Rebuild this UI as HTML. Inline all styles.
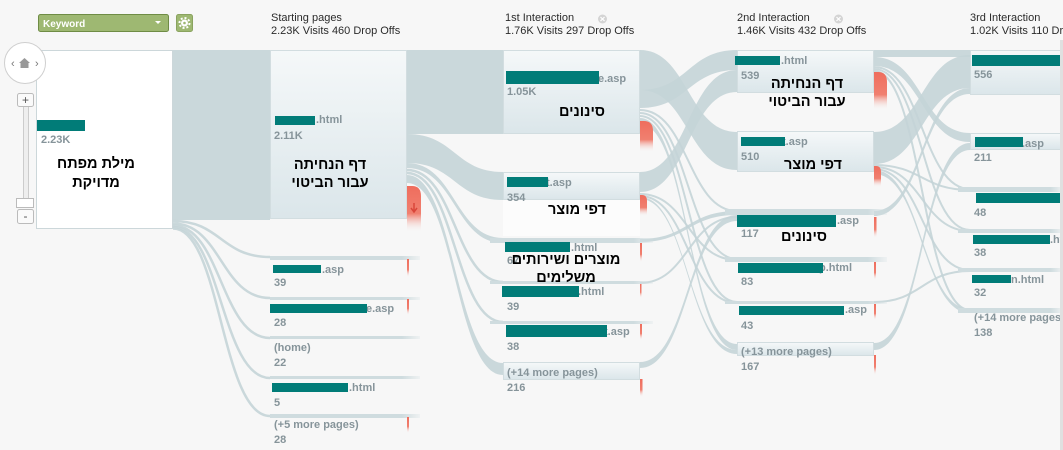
<!DOCTYPE html>
<html><head><meta charset="utf-8"><style>
html,body{margin:0;padding:0;background:#f7f7f7;}
svg{display:block;}
text{font-family:"Liberation Sans","DejaVu Sans",sans-serif;}
.h{font-size:11px;fill:#2b2b2b;}
.l{font-size:11px;font-weight:bold;fill:#86949a;}
.he{font-size:14.5px;font-weight:bold;fill:#000;}
</style></head><body>
<svg width="1063" height="450" viewBox="0 0 1063 450" xmlns="http://www.w3.org/2000/svg">
<defs>
<linearGradient id="ng" x1="0" y1="0" x2="0" y2="1"><stop offset="0" stop-color="#f5f8f9"/><stop offset="1" stop-color="#dbe6ea"/></linearGradient>
<linearGradient id="rg" x1="0" y1="0" x2="0" y2="1"><stop offset="0" stop-color="#ef6d5d"/><stop offset="0.6" stop-color="#f08070"/><stop offset="1" stop-color="#f7f7f7" stop-opacity="0"/></linearGradient>
<linearGradient id="bg" x1="0" y1="0" x2="1" y2="0"><stop offset="0" stop-color="#cfdcdf"/><stop offset="0.88" stop-color="#cfdcdf"/><stop offset="1" stop-color="#cfdcdf" stop-opacity="0.2"/></linearGradient>
</defs>
<rect width="1063" height="450" fill="#f7f7f7"/>

<!-- flows -->
<g fill="#c4d4d7" fill-opacity="0.88">
<rect x="173" y="50" width="97" height="170"/>
<rect x="407" y="50" width="96" height="84"/>
<path d="M407 134 C455 134 455 172 503 172 L503 200 C455 200 455 163 407 163Z"/>
<path d="M407 163 C455 163 455 238 503 238 L503 243 C455 243 455 168 407 168Z"/>
<path d="M407 175 C455 175 455 363 503 363 L503 375 C455 375 455 183 407 183Z"/>
<path d="M640 50 C688 50 688 132 737 132 L737 170 C688 170 688 90 640 90Z"/>
<path d="M640 90 C688 90 688 50 737 50 L737 70 C688 70 688 108 640 108Z"/>
<path d="M640 172 C688 172 688 70 737 70 L737 92 C688 92 688 192 640 192Z"/>
<path d="M640 118 C688 118 688 344 737 344 L737 350 C688 350 688 124 640 124Z"/>
<path d="M640 197 C688 197 688 350 737 350 L737 354 C688 354 688 199 640 199Z"/>
<path d="M640 239 C688 239 688 211 737 211 L737 215 C688 215 688 242 640 242Z"/>
<path d="M640 362 C688 362 688 215 737 215 L737 221 C688 221 688 368 640 368Z"/>
<path d="M874 50 C922 50 922 50 970 50 L970 57 C922 57 922 57 874 57Z"/>
<path d="M874 57 C922 57 922 133 970 133 L970 142 C922 142 922 66 874 66Z"/>
<path d="M874 132 C922 132 922 55 970 55 L970 88 C922 88 922 164 874 164Z"/>
<path d="M874 211 C922 211 922 88 970 88 L970 94 C922 94 922 216 874 216Z"/>
<path d="M874 343 C922 343 922 143 970 143 L970 150 C922 150 922 350 874 350Z"/>
<path d="M874 170 C922 170 922 309 970 309 L970 313 C922 313 922 174 874 174Z"/>
</g>
<g fill="none" stroke="#c4d4d7" stroke-width="2.5" stroke-opacity="0.9">
<path d="M173 221 C221 221 221 257 270 257"/>
<path d="M173 223.5 C221 223.5 221 298 270 298"/>
<path d="M173 225.5 C221 225.5 221 338 270 338"/>
<path d="M173 227 C221 227 221 378 270 378"/>
<path d="M173 228.5 C221 228.5 221 416 270 416"/>
<path d="M407 170 C455 170 455 282 503 282"/>
<path d="M407 173 C455 173 455 322 503 322"/>
<path d="M640 110 C688 110 688 211 737 211" stroke-width="2"/>
<path d="M640 113 C688 113 688 259 737 259" stroke-width="2"/>
<path d="M640 116 C688 116 688 302 737 302" stroke-width="2"/>
<path d="M640 194 C688 194 688 260 737 260" stroke-width="2"/>
<path d="M640 196 C688 196 688 303 737 303" stroke-width="2"/>
<path d="M640 283 C688 283 688 217 737 217" stroke-width="2"/>
<path d="M874 67 C922 67 922 189 970 189" stroke-width="2"/>
<path d="M874 69 C922 69 922 230 970 230" stroke-width="2"/>
<path d="M874 71 C922 71 922 310 970 310" stroke-width="2"/>
<path d="M874 165 C922 165 922 190 970 190" stroke-width="2"/>
<path d="M874 167 C922 167 922 231 970 231" stroke-width="2"/>
<path d="M874 169 C922 169 922 270 970 270" stroke-width="2"/>
<path d="M874 302 C922 302 922 271 970 271" stroke-width="2"/>
</g>

<!-- top controls -->
<rect x="38.5" y="14.5" width="130" height="17" rx="2" fill="#9eb872" stroke="#6f8c45"/>
<text x="43" y="27" style="font-size:10px;font-weight:bold;fill:#fff">Keyword</text>
<path d="M155 21 L161 21 L158 24Z" fill="#fff"/>
<rect x="176.5" y="14.5" width="16" height="17" rx="2" fill="#9eb872" stroke="#8aa35f"/>
<circle cx="184.5" cy="23" r="3.5" fill="#fff"/>
<circle cx="184.5" cy="23" r="5" fill="none" stroke="#fff" stroke-width="2" stroke-dasharray="2 1.9"/>
<circle cx="184.5" cy="23" r="1.3" fill="#9eb872"/>

<!-- headers -->
<text class="h" x="271" y="21">Starting pages</text>
<text class="h" x="271" y="34">2.23K Visits 460 Drop Offs</text>
<text class="h" x="505" y="21">1st Interaction</text>
<text class="h" x="505" y="34">1.76K Visits 297 Drop Offs</text>
<circle cx="602.5" cy="19" r="4.5" fill="#d4d4d4"/><path d="M600.5 17 L604.5 21 M604.5 17 L600.5 21" stroke="#fff" stroke-width="1.2"/>
<text class="h" x="737" y="21">2nd Interaction</text>
<text class="h" x="737" y="34">1.46K Visits 432 Drop Offs</text>
<circle cx="838.5" cy="19" r="4.5" fill="#d4d4d4"/><path d="M836.5 17 L840.5 21 M840.5 17 L836.5 21" stroke="#fff" stroke-width="1.2"/>
<text class="h" x="970" y="21">3rd Interaction</text>
<text class="h" x="970" y="34">1.02K Visits 110 Drop Offs</text>

<!-- col0 -->
<rect x="36.5" y="50.5" width="136" height="178" fill="#fff" stroke="#ccd7da"/>
<rect x="37" y="120" width="48" height="11" fill="#017c78"/>
<text class="l" x="41" y="143">2.23K</text>
<text class="he" x="96" y="168" text-anchor="middle" direction="rtl">מילת מפתח</text>
<text class="he" x="96" y="187" text-anchor="middle" direction="rtl">מדויקת</text>

<!-- nav -->
<circle cx="25" cy="63" r="20.5" fill="#fff" stroke="#cfcfcf"/>
<text x="11" y="67" style="font-size:11px;fill:#777">‹</text>
<text x="35" y="67" style="font-size:11px;fill:#777">›</text>
<path d="M19 63 L24.5 58 L30 63 L28.5 63 L28.5 68 L20.5 68 L20.5 63Z" fill="#999"/>
<rect x="23.5" y="106" width="5" height="93" fill="#eee" stroke="#ccc"/>
<rect x="17.5" y="93.5" width="16" height="13" rx="2" fill="#fafafa" stroke="#bbb"/>
<text x="25.5" y="104" text-anchor="middle" style="font-size:12px;fill:#555">+</text>
<rect x="16.5" y="198.5" width="17" height="9" fill="#fff" stroke="#bbb"/>
<rect x="17.5" y="209.5" width="16" height="14" rx="2" fill="#fafafa" stroke="#bbb"/>
<text x="25.5" y="220" text-anchor="middle" style="font-size:12px;fill:#555">-</text>

<!-- col1 nodes -->
<rect x="270.5" y="50.5" width="136" height="168" fill="url(#ng)" stroke="#d2dde0"/>
<text class="l" x="316" y="123">.html</text>
<rect x="275" y="116" width="40" height="9" fill="#017c78"/>
<text class="l" x="274" y="139">2.11K</text>
<text class="he" x="330" y="169" text-anchor="middle" direction="rtl">דף הנחיתה</text>
<text class="he" x="330" y="187" text-anchor="middle" direction="rtl">עבור הביטוי</text>

<g fill="url(#bg)">
<rect x="270" y="256" width="150" height="4"/>
<rect x="270" y="297" width="150" height="3"/>
<rect x="270" y="336" width="150" height="3"/>
<rect x="270" y="376" width="150" height="3"/>
<rect x="270" y="414" width="150" height="4"/>
<rect x="490" y="238" width="163" height="5"/>
<rect x="490" y="281" width="163" height="3"/>
<rect x="490" y="321" width="163" height="3"/>
<rect x="725" y="209" width="162" height="6"/>
<rect x="725" y="257" width="162" height="5"/>
<rect x="725" y="301" width="162" height="3"/>
<rect x="958" y="187" width="105" height="5"/>
<rect x="958" y="229" width="105" height="4"/>
<rect x="958" y="268" width="105" height="4"/>
<rect x="958" y="308" width="105" height="5"/>
</g>

<text class="l" x="322" y="273">.asp</text>
<rect x="273" y="265" width="48" height="8" fill="#017c78"/>
<text class="l" x="274" y="286">39</text>
<text class="l" x="366" y="312">e.asp</text>
<rect x="270" y="304" width="97" height="9" fill="#017c78"/>
<text class="l" x="274" y="326">28</text>
<text class="l" x="274" y="351">(home)</text>
<text class="l" x="274" y="366">22</text>
<text class="l" x="349" y="391">.html</text>
<rect x="272" y="383" width="76" height="9" fill="#017c78"/>
<text class="l" x="274" y="406">5</text>
<text class="l" x="274" y="428">(+5 more pages)</text>
<text class="l" x="274" y="443">28</text>

<!-- col2 nodes -->
<rect x="503.5" y="50.5" width="136" height="83" fill="url(#ng)" stroke="#d2dde0"/>
<text class="l" x="598" y="82">e.asp</text>
<rect x="506" y="71" width="93" height="13" fill="#017c78"/>
<text class="l" x="507" y="95">1.05K</text>
<text class="he" x="582" y="116" text-anchor="middle" direction="rtl">סינונים</text>
<rect x="503.5" y="172.5" width="136" height="27" fill="url(#ng)" stroke="#d2dde0"/>
<rect x="503" y="200" width="137" height="36" fill="#fcfcfc"/>
<text class="l" x="546" y="186">t.asp</text>
<rect x="507" y="177" width="41" height="10" fill="#017c78"/>
<text class="l" x="507" y="201">354</text>
<text class="he" x="577" y="214" text-anchor="middle" direction="rtl">דפי מוצר</text>

<text class="l" x="571" y="251">.html</text>
<text class="l" x="507" y="264">67</text>
<rect x="505" y="242" width="65" height="10" fill="#017c78"/>
<text class="he" x="566" y="264" text-anchor="middle" direction="rtl">מוצרים ושירותים</text>
<text class="he" x="566" y="282" text-anchor="middle" direction="rtl">משלימים</text>
<text class="l" x="578" y="295">.html</text>
<rect x="502" y="286" width="77" height="11" fill="#017c78"/>
<text class="l" x="507" y="310">39</text>
<text class="l" x="604" y="335">t.asp</text>
<rect x="506" y="325" width="101" height="12" fill="#017c78"/>
<text class="l" x="507" y="350">38</text>
<rect x="503.5" y="362.5" width="136" height="17" fill="url(#ng)" stroke="#d2dde0"/>
<text class="l" x="507" y="376">(+14 more pages)</text>
<text class="l" x="507" y="391">216</text>

<!-- col3 nodes -->
<rect x="737.5" y="50.5" width="136" height="42" fill="url(#ng)" stroke="#d2dde0"/>
<text class="l" x="781" y="64">.html</text>
<rect x="735" y="56" width="45" height="9" fill="#017c78"/>
<text class="l" x="741" y="79">539</text>
<text class="he" x="807" y="88" text-anchor="middle" direction="rtl">דף הנחיתה</text>
<text class="he" x="807" y="106" text-anchor="middle" direction="rtl">עבור הביטוי</text>
<rect x="737.5" y="131.5" width="136" height="40" fill="url(#ng)" stroke="#d2dde0"/>
<text class="l" x="782" y="145">t.asp</text>
<rect x="741" y="137" width="44" height="9" fill="#017c78"/>
<text class="l" x="741" y="160">510</text>
<text class="he" x="813" y="169" text-anchor="middle" direction="rtl">דפי מוצר</text>
<text class="l" x="837" y="224">.asp</text>
<rect x="737" y="215" width="99" height="12" fill="#017c78"/>
<text class="l" x="741" y="237">117</text>
<text class="he" x="804" y="241" text-anchor="middle" direction="rtl">סינונים</text>
<text class="l" x="819" y="271">p.html</text>
<rect x="738" y="263" width="85" height="10" fill="#017c78"/>
<text class="l" x="741" y="285">83</text>
<text class="l" x="845" y="313">.asp</text>
<rect x="739" y="306" width="105" height="9" fill="#017c78"/>
<text class="l" x="741" y="329">43</text>
<rect x="737.5" y="342.5" width="136" height="13" fill="url(#ng)" stroke="#d2dde0"/>
<text class="l" x="741" y="355">(+13 more pages)</text>
<text class="l" x="741" y="370">167</text>

<!-- col4 nodes -->
<rect x="970.5" y="50.5" width="95" height="44" fill="url(#ng)" stroke="#d2dde0"/>
<rect x="972" y="55" width="91" height="11" fill="#017c78"/>
<text class="l" x="974" y="78">556</text>
<rect x="970.5" y="133.5" width="95" height="16" fill="url(#ng)" stroke="#d2dde0"/>
<text class="l" x="1022" y="147">.asp</text>
<rect x="975" y="137" width="48" height="10" fill="#017c78"/>
<text class="l" x="974" y="161">211</text>
<rect x="976" y="193" width="87" height="10" fill="#017c78"/>
<text class="l" x="974" y="216">48</text>
<text class="l" x="1050" y="243">.html</text>
<rect x="973" y="235" width="77" height="9" fill="#017c78"/>
<text class="l" x="974" y="256">38</text>
<text class="l" x="1011" y="283">n.html</text>
<rect x="972" y="275" width="39" height="8" fill="#017c78"/>
<text class="l" x="974" y="296">32</text>
<text class="l" x="974" y="321">(+14 more pages)</text>
<text class="l" x="974" y="336">138</text>
<rect x="1060" y="40" width="3" height="410" fill="#e0e0e0"/>

<!-- drop offs -->
<g fill="url(#rg)">
<path d="M407 186 L412 186 Q421 186 421 196 L421 232 L407 232Z"/>
<path d="M640 121 L644 121 Q653 121 653 131 L653 152 L640 152Z"/>
<path d="M640 195 L642 195 Q647 195 647 201 L647 216 L640 216Z"/>
<path d="M874 72 L878 72 Q887 72 887 82 L887 110 L874 110Z"/>
<path d="M874 166 L876 166 Q881 166 881 172 L881 187 L874 187Z"/>
<rect x="640" y="243" width="2" height="19"/>
<rect x="640" y="284" width="1.5" height="14"/>
<rect x="640" y="324" width="2" height="16"/>
<rect x="640" y="379" width="2.5" height="18"/>
<rect x="874" y="217" width="2.5" height="21"/>
<rect x="874" y="262" width="2" height="18"/>
<rect x="874" y="304" width="2" height="16"/>
<rect x="874" y="355" width="2" height="20"/>
<rect x="407" y="259" width="2" height="18"/>
<rect x="407" y="299" width="2" height="16"/>
<rect x="407" y="417" width="2" height="16"/>
</g>
<path d="M414 203 L414 211 M411 208 L414 212 L417 208" stroke="#d9463a" stroke-width="1.5" fill="none"/>
</svg>
</body></html>
